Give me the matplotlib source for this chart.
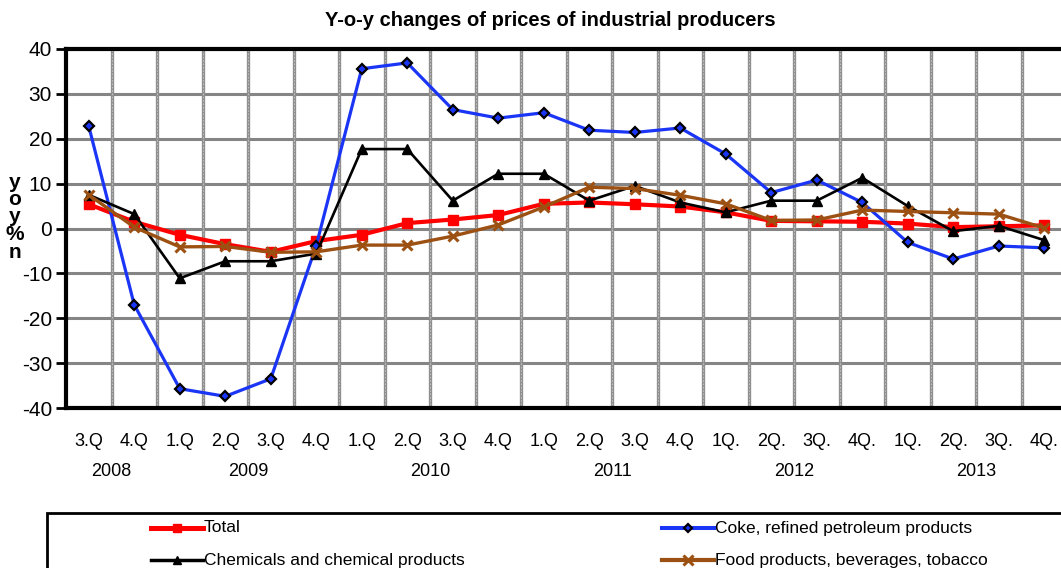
import matplotlib
matplotlib.use("Agg")
import matplotlib.pyplot as plt
import matplotlib.transforms as mtransforms
from matplotlib.lines import Line2D
from matplotlib.patches import Rectangle
import numpy as np

plt.rcParams['font.family'] = ['Liberation Sans', 'DejaVu Sans']
plt.rcParams['axes.unicode_minus'] = False

quarters = ["3.Q", "4.Q", "1.Q", "2.Q", "3.Q", "4.Q", "1.Q", "2.Q", "3.Q", "4.Q",
            "1.Q", "2.Q", "3.Q", "4.Q", "1Q.", "2Q.", "3Q.", "4Q.", "1Q.", "2Q.", "3Q.", "4Q."]
years = ["2008", "2009", "2010", "2011", "2012", "2013"]
quarters_per_year = [2, 4, 4, 4, 4, 4]

total = [5.4, 1.5, -1.4, -3.5, -5.2, -2.8, -1.4, 1.2, 2.0, 3.0, 5.5, 5.8, 5.4, 4.9,
         3.6, 1.7, 1.6, 1.5, 1.1, 0.3, 0.5, 0.7]
coke = [22.8, -17.0, -35.7, -37.4, -33.5, -3.8, 35.6, 36.9, 26.5, 24.6, 25.8, 21.9,
        21.4, 22.4, 16.6, 8.0, 10.8, 5.8, -3.1, -6.8, -3.9, -4.3]
chem = [7.5, 3.2, -11.1, -7.3, -7.3, -5.6, 17.7, 17.7, 6.2, 12.2, 12.2, 6.2, 9.5,
        5.8, 3.6, 6.2, 6.2, 11.3, 5.0, -0.6, 0.6, -2.6]
food = [7.5, 0.3, -4.1, -4.0, -5.3, -5.2, -3.7, -3.7, -1.7, 0.8, 4.8, 9.2, 8.9, 7.4,
        5.5, 1.8, 1.9, 4.1, 3.8, 3.5, 3.2, 0.1]
series_names = ["Total", "Coke, refined petroleum products",
                "Chemicals and chemical products", "Food products, beverages, tobacco"]

W, H = 1061, 568
fig = plt.figure(figsize=(W / 100, H / 100), dpi=100)

def fx(px):
    return px / W

def fy(py):
    return 1 - py / H

ax = fig.add_axes([fx(66), fy(408), fx(1067) - fx(66), fy(49) - fy(408)])
x = np.arange(len(quarters))

# grid
for yv in range(-30, 40, 10):
    ax.axhline(yv, color='#858585', lw=2.2, zorder=1)
for xv in np.arange(0.5, len(quarters) - 0.5, 1.0):
    ax.axvline(xv, color='#8f8f8f', lw=2.4, zorder=1)
    ax.axvline(xv, color='#c8c8c8', lw=0.6, ls=(0, (2, 2)), zorder=1.1)

styles = [
    dict(color='#ff0000', lw=3.0, marker='s', ms=6.5, mfc='#ff0000', mec='#ff0000'),
    dict(color='#1a35f5', lw=2.3, marker='D', ms=5.0, mfc='#1a35f5', mec='black', mew=1.6),
    dict(color='black', lw=1.9, marker='^', ms=7.0, mfc='black', mec='black'),
    dict(color='#9c5012', lw=2.4, marker='x', ms=7.5, mew=2.2, mec='#9c5012'),
]
for vals, st in zip([total, coke, chem, food], styles):
    ax.plot(x, vals, zorder=3, **st)

ax.set_xlim(-0.5, len(quarters) - 0.5)
ax.set_ylim(-40, 40)
ax.set_yticks(range(-40, 41, 10))
ax.tick_params(axis='y', direction='out', length=7, width=2, labelsize=15, pad=3)
ax.set_xticks(x)
ax.set_xticklabels(quarters, fontsize=13)
ax.tick_params(axis='x', length=0, pad=18)
for s in ['left', 'top', 'bottom']:
    ax.spines[s].set_linewidth(3)
    ax.spines[s].set_color('black')
ax.spines['right'].set_visible(False)

# year labels
trans = mtransforms.blended_transform_factory(ax.transData, fig.transFigure)
start = 0
for yr, n in zip(years, quarters_per_year):
    center = start + (n - 1) / 2
    ax.text(center, fy(472), yr, transform=trans, ha='center', va='center', fontsize=13)
    start += n

fig.text(0.519, fy(21), "Y-o-y changes of prices of industrial producers",
         ha='center', va='center', fontsize=14.5, fontweight='bold')

fig.text(fx(15), fy(217), "y\no\ny\n%\nn", ha='center', va='center',
         fontsize=15, fontweight='bold', linespacing=0.9)

# legend box
fig.add_artist(Rectangle((fx(47), fy(580)), fx(1100) - fx(47), fy(513) - fy(580),
                         transform=fig.transFigure, fill=False, ec='black', lw=2))
pos = [(151, 528), (662, 528), (151, 560), (662, 560)]
for (px, py), name, st in zip(pos, series_names, styles):
    fig.add_artist(Line2D([fx(px), fx(px + 52)], [fy(py), fy(py)], transform=fig.transFigure,
                          color=st['color'], lw=st['lw'] + 0.6))
    fig.add_artist(Line2D([fx(px + 26)], [fy(py)], transform=fig.transFigure, ls='none',
                          marker=st['marker'], ms=st['ms'] * 0.9, mfc=st.get('mfc', 'none'),
                          mec=st.get('mec'), mew=st.get('mew', 1.0)))
    fig.text(fx(px + 53), fy(py), name, ha='left', va='center', fontsize=12.5)

fig.savefig("out.png", dpi=100)
